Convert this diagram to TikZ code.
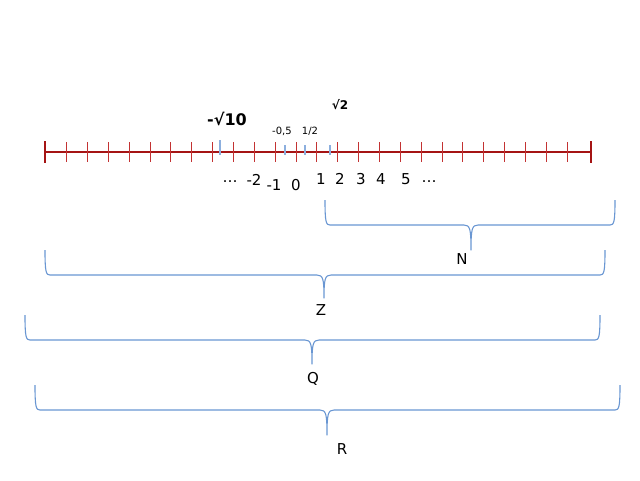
\documentclass[tikz,border=0pt]{standalone}
\usepackage{fontspec}
\setmainfont{DejaVu Sans}
\definecolor{linered}{RGB}{165,20,20}
\definecolor{tickred}{RGB}{195,50,50}
\definecolor{markblue}{RGB}{140,175,222}
\definecolor{braceblue}{RGB}{105,150,210}
\begin{document}
\begin{tikzpicture}[x=1pt,y=-1pt,
    axisline/.style={line width=2.6pt, linered},
    tickline/.style={line width=1pt, tickred},
    markline/.style={line width=1.4pt, markblue},
    braceline/.style={line width=1.1pt, braceblue, line join=round},
    numtext/.style={font=\fontsize{15}{17}\selectfont},
    setname/.style={font=\fontsize{15}{17}\selectfont}]
    \useasboundingbox (0,0) rectangle (640,480);

    % number line
    \draw [axisline] (45,152) -- (591,152);
    \foreach \k in {0,...,24} {
        \draw [tickline] (66.7+20.85*\k,142) -- (66.7+20.85*\k,162);
    }
    \draw [line width=1.4pt, linered] (45,141) -- (45,163);
    \draw [line width=1.4pt, linered] (591,141) -- (591,163);

    % irrational and fractional points
    \draw [markline] (220,140) -- (220,155);
    \foreach \x in {285,305,330} {
        \draw [markline] (\x,145) -- (\x,155);
    }
    \node (msqrtten) at (227,119) {\fontsize{16}{18}\selectfont\bfseries -√10};
    \node (sqrttwo) at (340,105) {\fontsize{12}{14}\selectfont\bfseries √2};
    \node (mhalf) at (282,131) {\fontsize{10}{12}\selectfont -0,5};
    \node (half) at (310,131) {\fontsize{10}{12}\selectfont 1/2};

    % integers below the line
    \foreach \t/\x/\y in {\dots/230/182, -2/254/180, -1/274/185, 0/296/185, 1/321/179, 2/340/179, 3/361/179, 4/381/179, 5/406/179, \dots/429/182} {
        \node [numtext] (num\x) at (\x,\y) {\t};
    }

    % braces for N, Z, Q, R
    \foreach \xa/\xb/\xm/\yt/\yh/\yb/\lx/\ly/\s in {325/615/471/200/225/250/462/259/N, 45/605/324/250/275/298/321/310/Z, 25/600/312/315/340/364/313/379/Q, 35/620/327/385/410/435/342/449/R} {
        \draw [braceline] (\xa,\yt) .. controls (\xa,\yh-3) and (\xa+1,\yh) .. (\xa+5,\yh)
            -- (\xm-7,\yh) .. controls (\xm-1,\yh) and (\xm,\yh+4) .. (\xm,\yb)
            .. controls (\xm,\yh+4) and (\xm+1,\yh) .. (\xm+7,\yh)
            -- (\xb-5,\yh) .. controls (\xb-1,\yh) and (\xb,\yh-3) .. (\xb,\yt);
        \node [setname] (set\s) at (\lx,\ly) {\s};
    }
\end{tikzpicture}
\end{document}
